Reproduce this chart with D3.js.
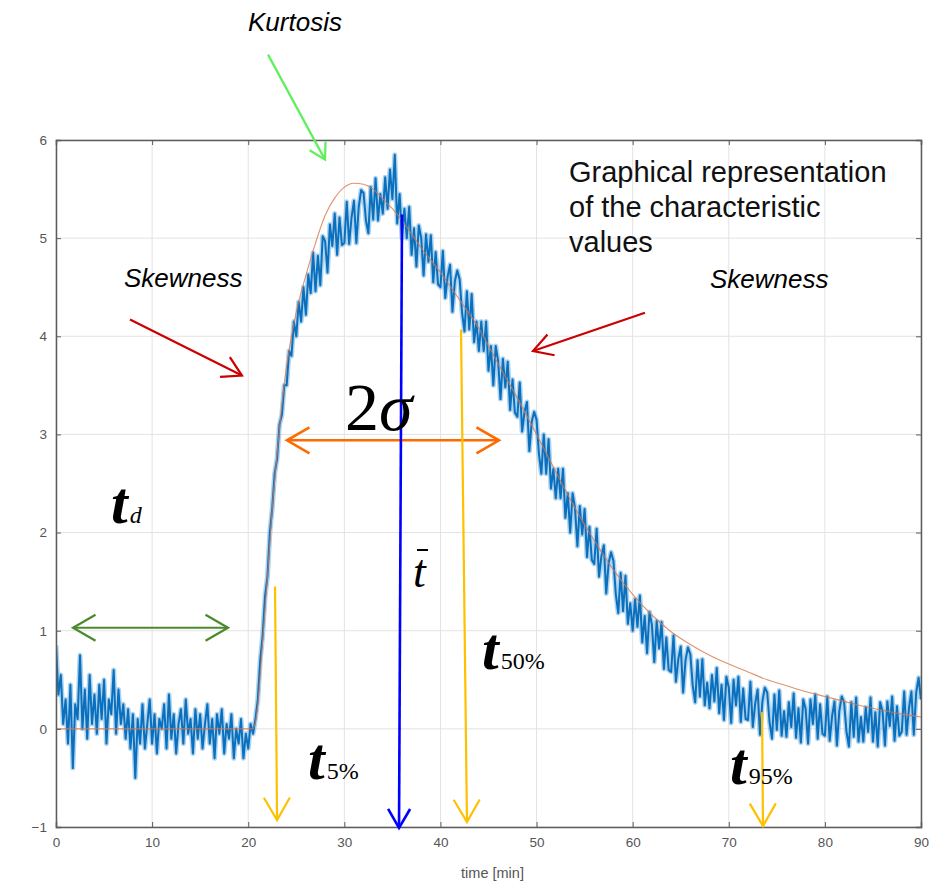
<!DOCTYPE html>
<html>
<head>
<meta charset="utf-8">
<script src="https://cdn.jsdelivr.net/npm/d3@7"></script>
<style>
  html, body { margin: 0; padding: 0; background: #fff; }
  svg { display: block; }
</style>
</head>
<body>
<svg id="chart" width="945" height="886"></svg>
<script>
// ---------------- DATA ----------------
// Measured signal, sampled every 0.25 min (each row = 2 minutes, 8 samples)
const sampleStep = 0.25;
const signalValues = [
  0.85, 0.35, 0.55, 0.05, 0.30, -0.15, 0.45, -0.40,   // 0-2
  0.25, 0.10, 0.75, 0.00, 0.40, -0.10, 0.55, 0.05,    // 2-4
  0.35, -0.05, 0.45, 0.10, 0.50, -0.15, 0.30, 0.15,   // 4-6
  0.60, -0.05, 0.40, 0.05, 0.25, -0.10, 0.20, -0.20,  // 6-8
  0.15, -0.50, 0.10, -0.15, 0.25, -0.20, 0.05, 0.30,  // 8-10
  -0.15, 0.15, -0.25, 0.10, 0.00, 0.25, -0.20, 0.35,  // 10-12
  -0.10, 0.15, -0.25, 0.05, 0.20, -0.15, 0.30, -0.05, // 12-14
  0.10, -0.25, 0.20, -0.10, 0.15, -0.20, 0.05, 0.25,  // 14-16
  -0.15, 0.10, -0.30, 0.15, -0.05, 0.20, -0.25, 0.05, // 16-18
  -0.10, 0.15, -0.30, 0.00, -0.15, 0.10, -0.30, -0.05,// 18-20
  -0.20, 0.05, -0.05, 0.10, 0.30, 0.70, 0.95, 1.35,   // 20-22
  1.55, 2.00, 2.25, 2.60, 2.75, 3.10, 3.20, 3.50,     // 22-24
  3.50, 3.85, 3.80, 4.15, 4.00, 4.35, 4.15, 4.50,     // 24-26
  4.22, 4.63, 4.44, 4.85, 4.46, 4.82, 4.52, 5.02,     // 26-28
  4.97, 4.65, 5.14, 4.92, 5.25, 4.83, 5.21, 4.93,     // 28-30
  4.95, 5.37, 4.94, 5.21, 5.38, 4.95, 5.32, 5.49,     // 30-32
  5.46, 5.18, 5.05, 5.52, 5.19, 5.61, 5.18, 5.45,     // 32-34
  5.25, 5.62, 5.30, 5.70, 5.40, 5.85, 5.15, 5.45,     // 34-36
  5.00, 5.30, 5.00, 5.32, 4.83, 5.10, 4.71, 5.13,     // 36-38
  5.00, 4.62, 5.04, 4.76, 5.03, 4.55, 4.86, 4.53,     // 38-40
  4.50, 4.87, 4.39, 4.61, 4.73, 4.25, 4.56, 4.67,     // 40-42
  4.58, 4.24, 4.05, 4.46, 4.07, 4.43, 3.94, 4.15,     // 42-44
  3.85, 4.15, 3.85, 4.15, 3.65, 3.90, 3.50, 3.90,     // 44-46
  3.75, 3.36, 3.77, 3.48, 3.74, 3.25, 3.56, 3.22,     // 46-48
  3.18, 3.53, 3.03, 3.23, 3.33, 2.83, 3.13, 3.23,     // 48-50
  3.15, 2.80, 2.60, 3.00, 2.60, 2.95, 2.45, 2.65,     // 50-52
  2.35, 2.65, 2.35, 2.65, 2.15, 2.40, 2.00, 2.40,     // 52-54
  2.25, 1.86, 2.27, 1.98, 2.24, 1.75, 2.06, 1.72,     // 54-56
  1.68, 2.04, 1.55, 1.76, 1.87, 1.38, 1.69, 1.80,     // 56-58
  1.71, 1.37, 1.18, 1.59, 1.20, 1.56, 1.07, 1.28,     // 58-60
  1.00, 1.32, 1.04, 1.36, 0.88, 1.15, 0.77, 1.19,     // 60-62
  1.06, 0.68, 1.10, 0.82, 1.09, 0.61, 0.93, 0.60,     // 62-64
  0.58, 0.95, 0.48, 0.71, 0.84, 0.37, 0.70, 0.83,     // 64-66
  0.76, 0.44, 0.27, 0.70, 0.33, 0.71, 0.24, 0.47,     // 66-68
  0.21, 0.55, 0.28, 0.62, 0.16, 0.45, 0.09, 0.53,     // 68-70
  0.42, 0.06, 0.50, 0.24, 0.53, 0.07, 0.41, 0.10,     // 70-72
  0.09, 0.48, 0.02, 0.26, 0.40, -0.06, 0.28, 0.42,    // 72-74
  0.37, 0.06, -0.10, 0.35, -0.01, 0.39, -0.07, 0.18,  // 74-76
  -0.08, 0.27, 0.02, 0.36, -0.09, 0.21, -0.14, 0.30,  // 76-78
  0.20, -0.15, 0.30, 0.05, 0.35, -0.10, 0.25, -0.05,  // 78-80
  -0.07, 0.33, -0.12, 0.13, 0.28, -0.17, 0.18, 0.33,  // 80-82
  0.27, -0.03, -0.18, 0.27, -0.08, 0.32, -0.13, 0.12, // 82-84
  -0.13, 0.22, -0.03, 0.32, -0.13, 0.17, -0.18, 0.27, // 84-86
  0.18, -0.17, 0.28, 0.03, 0.33, -0.12, 0.23, -0.07,  // 86-88
  -0.03, 0.38, -0.06, 0.21, 0.38, -0.06, 0.37, 0.52,  // 88-90
  0.30                                                // 90
];

// Fitted model curve
const fitTime  = [0, 20.5, 21, 21.5, 22, 22.5, 23, 23.5, 24, 24.5, 25, 26, 27, 28, 29, 30, 31, 32, 33, 34,
                  35, 36, 38, 40, 42, 44, 46, 48, 50, 52, 54, 56, 58, 60, 62, 64, 66, 68, 70, 72,
                  74, 76, 78, 80, 82, 84, 86, 88, 90];
const fitValue = [0, 0, 0.25, 0.9, 1.55, 2.25, 2.8, 3.3, 3.7, 4.0, 4.25, 4.62, 4.95, 5.23, 5.41, 5.52, 5.56, 5.55, 5.5, 5.4,
                  5.3, 5.18, 4.9, 4.65, 4.37, 4.08, 3.72, 3.37, 3.0, 2.62, 2.25, 1.92, 1.62, 1.37, 1.16, 0.99, 0.86, 0.75, 0.66, 0.58,
                  0.5, 0.44, 0.38, 0.33, 0.28, 0.23, 0.19, 0.15, 0.12];

// Axis ticks
const xTicks = [0, 10, 20, 30, 40, 50, 60, 70, 80, 90];
const yTicks = [-1, 0, 1, 2, 3, 4, 5, 6];
const xLabel = "time [min]";

// Annotation arrows, endpoints in data units [time, value]
const arrowFrom  = [[22.06, 6.87], [7.70, 4.17], [61.28, 4.24], [24.03, 2.94], [1.77, 1.03], [36.0, 5.24], [22.79, 1.45], [42.14, 4.07], [73.46, 0.17]];
const arrowTo    = [[27.99, 5.80], [19.35, 3.60], [49.63, 3.85], [46.09, 2.94], [17.90, 1.03], [35.69, -1.01], [23.0, -0.93], [42.76, -0.95], [73.56, -0.99]];
const arrowBoth  = [false, false, false, true, true, false, false, false, false];
const arrowColor = ["#5ef05a", "#cc0000", "#cc0000", "#ff6a00", "#4b8a2c", "#0000ff", "#ffc000", "#ffc000", "#ffc000"];

// ---------------- CHART ----------------
const svg = d3.select("#chart");
const W = 945, H = 886;
svg.append("rect").attr("width", W).attr("height", H).attr("fill", "#fff");

const x = d3.scaleLinear().domain([0, 90]).range([56, 921]);
const y = d3.scaleLinear().domain([-1, 6]).range([827, 140]);

// grid
const grid = svg.append("g");
grid.selectAll(".gx").data(xTicks).join("line")
  .attr("x1", d => x(d)).attr("x2", d => x(d)).attr("y1", y(-1)).attr("y2", y(6))
  .attr("stroke", "#e3e3e3").attr("stroke-width", 1);
grid.selectAll(".gy").data(yTicks).join("line")
  .attr("x1", x(0)).attr("x2", x(90)).attr("y1", d => y(d)).attr("y2", d => y(d))
  .attr("stroke", "#e3e3e3").attr("stroke-width", 1);

// signal
svg.append("clipPath").attr("id", "plotclip").append("rect")
  .attr("x", x(0)).attr("y", y(6)).attr("width", x(90) - x(0)).attr("height", y(-1) - y(6));
const plot = svg.append("g").attr("clip-path", "url(#plotclip)");

const signalLine = d3.line().x((d, i) => x(i * sampleStep)).y(d => y(d));
plot.append("path").datum(signalValues).attr("d", signalLine)
  .attr("fill", "none").attr("stroke", "#6aaee2").attr("stroke-width", 5).attr("stroke-linejoin", "round").attr("opacity", 0.55);
plot.append("path").datum(signalValues).attr("d", signalLine)
  .attr("fill", "none").attr("stroke", "#0a6fbd").attr("stroke-width", 2).attr("stroke-linejoin", "round");

const fitLine = d3.line().x((d, i) => x(fitTime[i])).y(d => y(d)).curve(d3.curveMonotoneX);
plot.append("path").datum(fitValue).attr("d", fitLine)
  .attr("fill", "none").attr("stroke", "#d9774a").attr("stroke-width", 1.1).attr("opacity", 0.8);

// axes (MATLAB style box with inward ticks)
const axisColor = "#5c5c5c";
const xAxisB = d3.axisBottom(x).tickValues(xTicks).tickSize(-5).tickPadding(10).tickFormat(d3.format("d"));
const xAxisT = d3.axisTop(x).tickValues(xTicks).tickSize(-5).tickFormat("");
const yAxisL = d3.axisLeft(y).tickValues(yTicks).tickSize(-5).tickPadding(9).tickFormat(d3.format("d"));
const yAxisR = d3.axisRight(y).tickValues(yTicks).tickSize(-5).tickFormat("");

function styleAxis(g) {
  g.select(".domain").attr("stroke", axisColor).attr("stroke-width", 1.5);
  g.selectAll(".tick line").attr("stroke", axisColor).attr("stroke-width", 1);
  g.selectAll(".tick text").attr("fill", "#555").attr("font-family", "Liberation Sans, Arial, sans-serif").attr("font-size", 13.5);
}
svg.append("g").attr("transform", `translate(0,${y(-1)})`).call(xAxisB).call(styleAxis);
svg.append("g").attr("transform", `translate(0,${y(6)})`).call(xAxisT).call(styleAxis);
svg.append("g").attr("transform", `translate(${x(0)},0)`).call(yAxisL).call(styleAxis);
svg.append("g").attr("transform", `translate(${x(90)},0)`).call(yAxisR).call(styleAxis);

svg.append("text").attr("x", (x(0) + x(90)) / 2 + 4).attr("y", 878)
  .attr("text-anchor", "middle").attr("fill", "#555")
  .attr("font-family", "Liberation Sans, Arial, sans-serif").attr("font-size", 14.5).text(xLabel);

// arrows
function chevron(g, tip, angle, len, color, width) {
  const a1 = angle + Math.PI - Math.PI / 6, a2 = angle + Math.PI + Math.PI / 6;
  g.append("path")
    .attr("d", `M${tip[0] + len * Math.cos(a1)},${tip[1] + len * Math.sin(a1)}L${tip[0]},${tip[1]}L${tip[0] + len * Math.cos(a2)},${tip[1] + len * Math.sin(a2)}`)
    .attr("fill", "none").attr("stroke", color).attr("stroke-width", width).attr("stroke-linejoin", "miter");
}
const arrowsG = svg.append("g");
arrowFrom.forEach((f, i) => {
  const p0 = [x(f[0]), y(f[1])], p1 = [x(arrowTo[i][0]), y(arrowTo[i][1])];
  const c = arrowColor[i];
  const w = (i === 5 || i === 3) ? 2.6 : 2.2;
  const head = (i === 0) ? 18 : (i === 1 || i === 2) ? 22 : (i === 5) ? 22 : 26;
  arrowsG.append("line").attr("x1", p0[0]).attr("y1", p0[1]).attr("x2", p1[0]).attr("y2", p1[1])
    .attr("stroke", c).attr("stroke-width", w);
  const ang = Math.atan2(p1[1] - p0[1], p1[0] - p0[0]);
  chevron(arrowsG, p1, ang, head, c, w);
  if (arrowBoth[i]) chevron(arrowsG, p0, ang + Math.PI, head, c, w);
});

// texts
const sans = "Liberation Sans, Arial, sans-serif";
const serif = "Liberation Serif, Times New Roman, serif";
const T = svg.append("g");
T.append("text").attr("x", 248).attr("y", 31).attr("font-family", sans).attr("font-style", "italic").attr("font-size", 26).text("Kurtosis");
T.append("text").attr("x", 124).attr("y", 287).attr("font-family", sans).attr("font-style", "italic").attr("font-size", 26).text("Skewness");
T.append("text").attr("x", 710).attr("y", 288).attr("font-family", sans).attr("font-style", "italic").attr("font-size", 26).text("Skewness");
["Graphical representation", "of the characteristic", "values"].forEach((s, i) => {
  T.append("text").attr("x", 569).attr("y", 182 + i * 35).attr("font-family", sans).attr("font-size", 29).attr("fill", "#111").text(s);
});
T.append("text").attr("x", 345).attr("y", 430).attr("font-family", serif).attr("font-size", 68)
  .call(t => { t.append("tspan").text("2"); t.append("tspan").attr("font-style", "italic").text("σ"); });

function tLabel(px, py, sub, subItalic) {
  const t = T.append("text").attr("x", px).attr("y", py).attr("font-family", serif);
  t.append("tspan").attr("font-size", 60).attr("font-style", "italic").attr("font-weight", "bold").text("t");
  t.append("tspan").attr("font-size", 24).attr("dx", 2).attr("font-style", subItalic ? "italic" : "normal").text(sub);
}
tLabel(111, 523, "d", true);
tLabel(308, 779, "5%", false);
tLabel(482, 669, "50%", false);
tLabel(730, 784, "95%", false);

// t-bar
T.append("text").attr("x", 413).attr("y", 587).attr("font-family", serif).attr("font-style", "italic").attr("font-size", 46).text("t");
T.append("line").attr("x1", 417).attr("x2", 428).attr("y1", 550).attr("y2", 550).attr("stroke", "#000").attr("stroke-width", 2);
</script>
</body>
</html>
